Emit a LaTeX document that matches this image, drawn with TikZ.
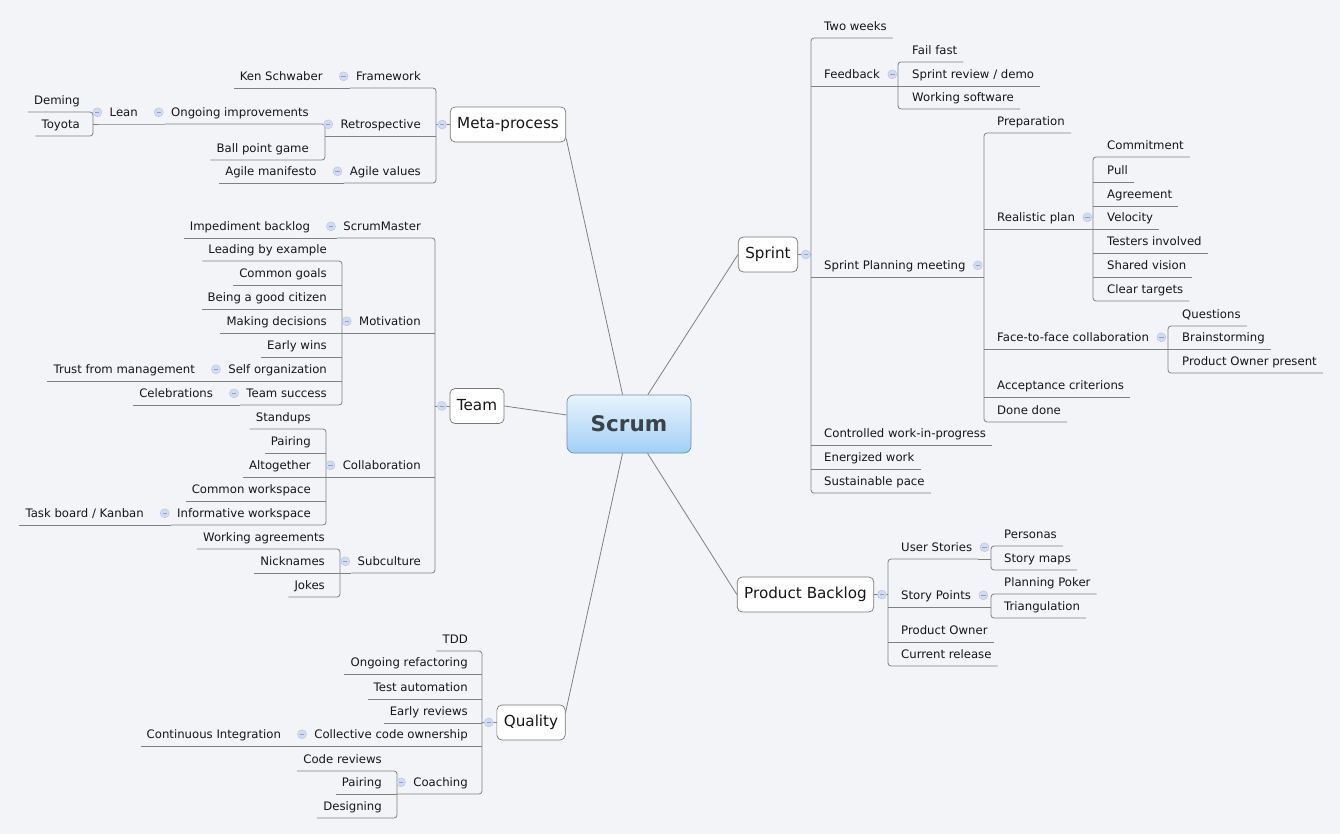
\documentclass[tikz,border=0pt]{standalone}
\usepackage{fontspec}
\setmainfont{DejaVu Sans}
\usepackage{xcolor}
\usepackage{tikz}
\usetikzlibrary{positioning}

\definecolor{bgcol}{RGB}{243,244,248}
\definecolor{linecol}{RGB}{128,128,128}
\definecolor{txtcol}{RGB}{22,22,22}
\definecolor{boxline}{RGB}{120,120,120}
\definecolor{foldfill}{RGB}{208,220,240}
\definecolor{foldline}{RGB}{175,195,228}
\definecolor{folddash}{RGB}{140,160,200}
\definecolor{scrumtop}{RGB}{232,244,253}
\definecolor{scrumbot}{RGB}{162,207,246}
\definecolor{scrumline}{RGB}{112,140,172}
\definecolor{scrumtxt}{RGB}{58,66,74}

\begin{document}
\begin{tikzpicture}[
  x=1pt, y=-1pt,
  link/.style={draw=linecol, line width=0.8pt},
  bracket/.style={link, rounded corners=3pt},
  leaf/.style={font=\fontsize{11.7}{14}\selectfont, text=txtcol,
    inner xsep=6pt, inner ysep=7pt, text height=9pt, text depth=0pt},
  rt/.style={leaf, anchor=south west},
  lt/.style={leaf, anchor=south east},
  mainbox/.style={draw=boxline, fill=white, line width=0.7pt, rounded corners=5pt,
    font=\fontsize{15.2}{18}\selectfont, text=txtcol, inner xsep=7pt,
    minimum height=35pt, text height=11pt, text depth=3pt},
  rootbox/.style={draw=scrumline, top color=scrumtop, bottom color=scrumbot,
    line width=0.7pt, rounded corners=7pt, minimum width=124pt, minimum height=58pt,
    font=\bfseries\fontsize{21.5}{26}\selectfont, text=scrumtxt},
  fold/.style={circle, draw=foldline, fill=foldfill, minimum size=9pt, inner sep=0pt,
    path picture={\draw[draw=folddash, line width=0.6pt]
      ([xshift=-2.2pt]path picture bounding box.center) --
      ([xshift=2.2pt]path picture bounding box.center);}}
]
\useasboundingbox (0,0) rectangle (1340,834);
\fill[bgcol] (0,0) rectangle (1340,834);

\node[rootbox] (scrum) at (629,424) {Scrum};

% ============ META-PROCESS ============
\node[mainbox] (meta) at (508,124.5) {Meta-process};
\coordinate (meta-b) at (436,0);
\node[lt] (framework) at (427,88) {Framework};
\node[lt, left=21pt of framework.west] (schwaber) {Ken Schwaber};
\node[lt] (retro) at (427,136) {Retrospective};
\coordinate (retro-b) at (325,0);
\node[lt] (ongoing) at (315,124) {Ongoing improvements};
\node[lt, left=21pt of ongoing.west] (lean) {Lean};
\coordinate (lean-b) at (93,0);
\node[lt] (deming) at (86,112) {Deming};
\node[lt] (toyota) at (86,136) {Toyota};
\node[lt] (ballpoint) at (315,160) {Ball point game};
\node[lt] (values) at (427,183) {Agile values};
\node[lt, left=21pt of values.west] (manifesto) {Agile manifesto};

\draw[link] (meta.west) -- (meta.west -| meta-b);
\draw[bracket] (framework.south west) -- (framework.south -| meta-b)
   -- (values.south -| meta-b) -- (values.south west);
\draw[link] (meta-b |- retro.south) -- (retro.south -| retro-b);
\draw[link] (framework.south west) -- (schwaber.south west);
\draw[link] (values.south west) -- (manifesto.south west);
\draw[bracket] (ongoing.south west) -- (ongoing.south -| retro-b)
   -- (ballpoint.south -| retro-b) -- (ballpoint.south west);
\draw[link] (ongoing.south west) -- (lean.south west) -- (lean.south -| lean-b);
\draw[bracket] (deming.south west) -- (deming.south -| lean-b)
   -- (toyota.south -| lean-b) -- (toyota.south west);

% ============ TEAM ============
\node[mainbox] (team) at (477,406) {Team};
\coordinate (team-b) at (435,0);
\node[lt] (master) at (427,238) {ScrumMaster};
\node[lt, left=21pt of master.west] (impediment) {Impediment backlog};
\node[lt] (motivation) at (427,333) {Motivation};
\coordinate (motiv-b) at (342,0);
\node[lt] (leading) at (333,261) {Leading by example};
\node[lt] (goals) at (333,285) {Common goals};
\node[lt] (citizen) at (333,309) {Being a good citizen};
\node[lt] (decisions) at (333,333) {Making decisions};
\node[lt] (wins) at (333,357) {Early wins};
\node[lt] (selforg) at (333,381) {Self organization};
\node[lt, left=21pt of selforg.west] (trust) {Trust from management};
\node[lt] (success) at (333,405) {Team success};
\node[lt, left=21pt of success.west] (celebrations) {Celebrations};
\node[lt] (collab) at (427,477) {Collaboration};
\coordinate (collab-b) at (326,0);
\node[lt] (standups) at (317,429) {Standups};
\node[lt] (pairing) at (317,453) {Pairing};
\node[lt] (altogether) at (317,477) {Altogether};
\node[lt] (workspace) at (317,501) {Common workspace};
\node[lt] (informative) at (317,525) {Informative workspace};
\node[lt, left=21pt of informative.west] (taskboard) {Task board / Kanban};
\node[lt] (subculture) at (427,573) {Subculture};
\coordinate (sub-b) at (340,0);
\node[lt] (agreements) at (331,549) {Working agreements};
\node[lt] (nicknames) at (331,573) {Nicknames};
\node[lt] (jokes) at (331,597) {Jokes};

\draw[link] (team.west) -- (team.west -| team-b);
\draw[bracket] (master.south west) -- (master.south -| team-b)
   -- (subculture.south -| team-b) -- (subculture.south west);
\draw[link] (master.south west) -- (impediment.south west);
\draw[link] (team-b |- motivation.south) -- (motivation.south -| motiv-b);
\draw[link] (team-b |- collab.south) -- (collab.south -| collab-b);
\draw[link] (subculture.south west) -- (subculture.south -| sub-b);
\draw[bracket] (leading.south west) -- (leading.south -| motiv-b)
   -- (success.south -| motiv-b) -- (success.south west);
\foreach \c in {goals, citizen, decisions, wins, selforg}
  \draw[link] (motiv-b |- \c.south) -- (\c.south west);
\draw[link] (selforg.south west) -- (trust.south west);
\draw[link] (success.south west) -- (celebrations.south west);
\draw[bracket] (standups.south west) -- (standups.south -| collab-b)
   -- (informative.south -| collab-b) -- (informative.south west);
\foreach \c in {pairing, altogether, workspace}
  \draw[link] (collab-b |- \c.south) -- (\c.south west);
\draw[link] (informative.south west) -- (taskboard.south west);
\draw[bracket] (agreements.south west) -- (agreements.south -| sub-b)
   -- (jokes.south -| sub-b) -- (jokes.south west);
\draw[link] (sub-b |- nicknames.south) -- (nicknames.south west);

% ============ QUALITY ============
\node[mainbox] (quality) at (531,722.5) {Quality};
\coordinate (quality-b) at (482,0);
\node[lt] (tdd) at (474,651) {TDD};
\node[lt] (refactoring) at (474,674) {Ongoing refactoring};
\node[lt] (automation) at (474,699) {Test automation};
\node[lt] (early) at (474,723) {Early reviews};
\node[lt] (ownership) at (474,746) {Collective code ownership};
\node[lt, left=21pt of ownership.west] (integration) {Continuous Integration};
\node[lt] (coaching) at (474,794) {Coaching};
\coordinate (coach-b) at (397,0);
\node[lt] (codereviews) at (388,771) {Code reviews};
\node[lt] (qpairing) at (388,794) {Pairing};
\node[lt] (designing) at (388,818) {Designing};

\draw[link] (quality.west) -- (quality.west -| quality-b);
\draw[bracket] (tdd.south west) -- (tdd.south -| quality-b)
   -- (coaching.south -| quality-b) -- (coaching.south -| coach-b);
\foreach \c in {refactoring, automation, early, ownership}
  \draw[link] (quality-b |- \c.south) -- (\c.south west);
\draw[link] (ownership.south west) -- (integration.south west);
\draw[bracket] (codereviews.south west) -- (codereviews.south -| coach-b)
   -- (designing.south -| coach-b) -- (designing.south west);
\draw[link] (coach-b |- qpairing.south) -- (qpairing.south west);

% ============ SPRINT ============
\node[mainbox] (sprint) at (768,254.5) {Sprint};
\coordinate (sprint-b) at (811,0);
\node[rt] (twoweeks) at (818,38) {Two weeks};
\node[rt] (feedback) at (818,86) {Feedback};
\coordinate (feedback-b) at (898,0);
\node[rt] (failfast) at (906,62) {Fail fast};
\node[rt] (review) at (906,86) {Sprint review / demo};
\node[rt] (software) at (906,109) {Working software};
\node[rt] (planning) at (818,277) {Sprint Planning meeting};
\coordinate (planning-b) at (984,0);
\node[rt] (preparation) at (991,133) {Preparation};
\node[rt] (realistic) at (991,229) {Realistic plan};
\coordinate (realistic-b) at (1093,0);
\node[rt] (commitment) at (1101,157) {Commitment};
\node[rt] (pull) at (1101,182) {Pull};
\node[rt] (agreement) at (1101,206) {Agreement};
\node[rt] (velocity) at (1101,229) {Velocity};
\node[rt] (testers) at (1101,253) {Testers involved};
\node[rt] (vision) at (1101,277) {Shared vision};
\node[rt] (targets) at (1101,301) {Clear targets};
\node[rt] (facetoface) at (991,349) {Face-to-face collaboration};
\coordinate (facetoface-b) at (1168,0);
\node[rt] (questions) at (1176,326) {Questions};
\node[rt] (brainstorming) at (1176,349) {Brainstorming};
\node[rt] (present) at (1176,373) {Product Owner present};
\node[rt] (acceptance) at (991,397) {Acceptance criterions};
\node[rt] (donedone) at (991,422) {Done done};
\node[rt] (wip) at (818,445) {Controlled work-in-progress};
\node[rt] (energized) at (818,469) {Energized work};
\node[rt] (pace) at (818,493) {Sustainable pace};

\draw[link] (sprint.east) -- (sprint.east -| sprint-b);
\draw[bracket] (twoweeks.south east) -- (twoweeks.south -| sprint-b)
   -- (pace.south -| sprint-b) -- (pace.south east);
\foreach \c in {feedback, planning, wip, energized}
  \draw[link] (sprint-b |- \c.south) -- (\c.south east);
\draw[link] (feedback.south east) -- (feedback.south -| feedback-b);
\draw[link] (planning.south east) -- (planning.south -| planning-b);
\draw[bracket] (failfast.south east) -- (failfast.south -| feedback-b)
   -- (software.south -| feedback-b) -- (software.south east);
\draw[link] (feedback-b |- review.south) -- (review.south east);
\draw[bracket] (preparation.south east) -- (preparation.south -| planning-b)
   -- (donedone.south -| planning-b) -- (donedone.south east);
\foreach \c in {realistic, facetoface, acceptance}
  \draw[link] (planning-b |- \c.south) -- (\c.south east);
\draw[link] (realistic.south east) -- (realistic.south -| realistic-b);
\draw[link] (facetoface.south east) -- (facetoface.south -| facetoface-b);
\draw[bracket] (commitment.south east) -- (commitment.south -| realistic-b)
   -- (targets.south -| realistic-b) -- (targets.south east);
\foreach \c in {pull, agreement, velocity, testers, vision}
  \draw[link] (realistic-b |- \c.south) -- (\c.south east);
\draw[bracket] (questions.south east) -- (questions.south -| facetoface-b)
   -- (present.south -| facetoface-b) -- (present.south east);
\draw[link] (facetoface-b |- brainstorming.south) -- (brainstorming.south east);

% ============ PRODUCT BACKLOG ============
\node[mainbox] (backlog) at (805.5,594.5) {Product Backlog};
\coordinate (backlog-b) at (888,0);
\node[rt] (stories) at (895,559) {User Stories};
\coordinate (stories-b) at (991,0);
\node[rt] (personas) at (998,546) {Personas};
\node[rt] (maps) at (998,570) {Story maps};
\node[rt] (points) at (895,607) {Story Points};
\coordinate (points-b) at (991,0);
\node[rt] (poker) at (998,594) {Planning Poker};
\node[rt] (triangulation) at (998,618) {Triangulation};
\node[rt] (owner) at (895,642) {Product Owner};
\node[rt] (release) at (895,666) {Current release};

\draw[link] (backlog.east) -- (backlog.east -| backlog-b);
\draw[bracket] (stories.south east) -- (stories.south -| backlog-b)
   -- (release.south -| backlog-b) -- (release.south east);
\foreach \c in {points, owner}
  \draw[link] (backlog-b |- \c.south) -- (\c.south east);
\draw[link] (stories.south east) -- (stories.south -| stories-b);
\draw[link] (points.south east) -- (points.south -| points-b);
\draw[bracket] (personas.south east) -- (personas.south -| stories-b)
   -- (maps.south -| stories-b) -- (maps.south east);
\draw[bracket] (poker.south east) -- (poker.south -| points-b)
   -- (triangulation.south -| points-b) -- (triangulation.south east);

% ============ ROOT LINKS ============
\draw[link] (scrum) -- ([yshift=4pt]meta.south east);
\draw[link] (scrum) -- (team.east);
\draw[link] (scrum) -- ([yshift=-8pt]quality.north east);
\draw[link] (scrum) -- (sprint.west);
\draw[link] (scrum) -- (backlog.west);

% ============ FOLD MARKS ============
\node[fold, left=3pt of meta.west] (meta-f) {};
\node[fold, left=3pt of team.west] (team-f) {};
\node[fold, left=3pt of quality.west] (quality-f) {};
\node[fold, right=3pt of sprint.east] (sprint-f) {};
\node[fold, right=3pt of backlog.east] (backlog-f) {};
\foreach \c in {framework, retro, ongoing, lean, values, master, motivation,
    selforg, success, collab, informative, subculture, ownership, coaching}
  \node[fold, left=1.5pt of \c.west] (\c-f) {};
\foreach \c in {feedback, planning, realistic, facetoface, stories, points}
  \node[fold, right=1.5pt of \c.east] (\c-f) {};

\end{tikzpicture}
\end{document}
